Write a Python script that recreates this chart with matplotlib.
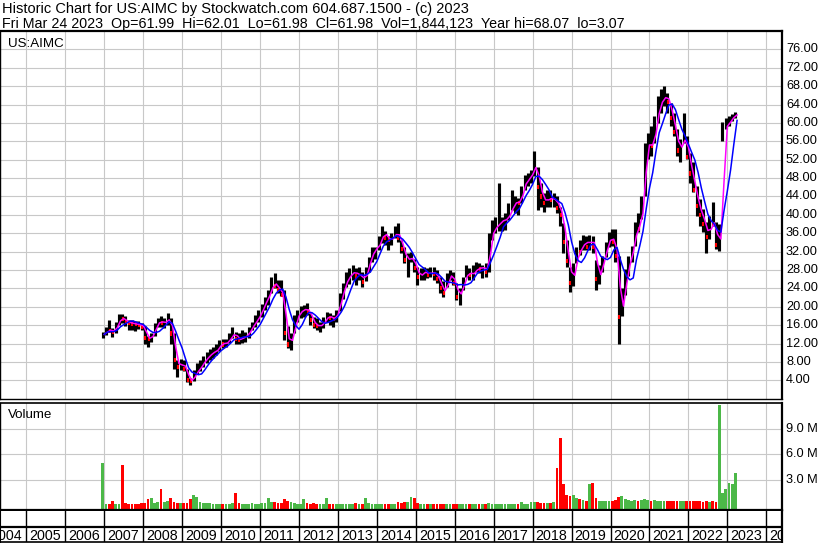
import numpy as np
import pandas as pd
import matplotlib
matplotlib.use("Agg")
import matplotlib.pyplot as plt

plt.rcParams['font.family'] = ['Liberation Sans', 'DejaVu Sans']

# ---------------- data (monthly, Dec 2006 .. Mar 2023) ----------------
first_month = "2006-12"
high = [14.5,
        15.6, 17.1, 15.3, 16.7, 18.4, 18.5, 18.1, 17.2, 17.2, 17.0, 16.9, 16.5,
        15.9, 13.6, 14.4, 16.5, 17.5, 17.9, 17.5, 18.6, 17.6, 14.2, 8.4, 8.7,
        8.4, 6.4, 4.6, 6.2, 7.7, 8.4, 9.2, 10.2, 10.8, 11.3, 12.0, 12.8,
        13.0, 13.0, 14.4, 15.7, 14.6, 14.2, 15.0, 14.6, 15.7, 16.7, 18.2, 19.3,
        20.6, 22.2, 23.6, 26.5, 27.4, 25.8, 25.8, 23.6, 15.8, 14.2, 18.2, 19.3,
        20.1, 20.4, 20.8, 18.6, 17.8, 17.5, 16.7, 17.8, 18.9, 18.6, 18.2, 19.3,
        22.9, 25.2, 27.6, 28.4, 29.1, 28.4, 28.7, 27.6, 28.7, 30.9, 33.1, 33.1,
        35.3, 37.5, 36.4, 35.3, 36.0, 37.5, 38.2, 34.5, 33.1, 31.6, 32.0, 30.5,
        28.7, 28.4, 28.7, 28.4, 28.7, 28.7, 28.0, 26.5, 25.5, 27.3, 28.0, 27.6,
        25.1, 24.0, 26.5, 29.1, 28.4, 29.1, 29.8, 29.5, 29.1, 29.5, 36.0, 38.9,
        39.6, 47.0, 39.6, 40.4, 42.5, 45.5, 44.0, 43.6, 46.2, 48.7, 49.1, 49.8,
        53.8, 50.5, 46.9, 44.7, 45.5, 45.5, 44.7, 44.0, 41.8, 38.2, 34.5, 28.7,
        29.5, 33.1, 34.5, 35.6, 35.3, 35.6, 35.3, 30.2, 29.0, 31.1, 34.0, 36.2,
        36.9, 36.9, 31.0, 24.0, 28.2, 31.1, 33.3, 38.4, 40.5, 44.1, 55.7, 57.9,
        59.3, 61.5, 65.8, 67.3, 68.07, 66.6, 64.4, 62.2, 58.6, 56.4, 62.2, 57.2,
        53.5, 51.4, 46.3, 43.4, 41.2, 38.4, 39.8, 42.7, 38.4, 38.0, 60.2, 61.1,
        61.5, 61.9, 62.3]
low = [13.3,
       13.8, 14.6, 13.5, 14.4, 16.1, 16.5, 15.9, 14.9, 14.9, 14.7, 15.1, 14.9,
       11.8, 11.3, 12.3, 13.6, 15.5, 15.5, 15.3, 16.1, 11.8, 6.4, 4.8, 6.2,
       6.1, 3.6, 3.07, 3.9, 5.3, 6.1, 6.9, 7.7, 8.5, 8.9, 9.5, 10.3,
       11.1, 11.2, 12.2, 13.2, 12.0, 11.8, 12.2, 12.4, 13.1, 15.0, 15.7, 16.7,
       17.7, 19.3, 20.4, 22.9, 24.0, 22.9, 22.4, 12.8, 11.0, 10.5, 14.3, 16.7,
       17.5, 17.8, 18.2, 16.0, 15.4, 15.0, 14.6, 15.4, 16.7, 16.0, 15.7, 16.7,
       19.0, 21.8, 24.4, 25.0, 25.8, 24.7, 25.8, 24.4, 25.5, 27.6, 29.8, 30.5,
       32.4, 33.8, 33.5, 32.4, 33.5, 34.9, 34.0, 31.6, 29.5, 26.5, 29.8, 27.6,
       24.7, 25.8, 25.8, 26.2, 26.5, 25.8, 25.1, 22.9, 22.2, 24.4, 25.8, 24.7,
       21.5, 20.4, 23.6, 26.5, 25.8, 25.8, 27.6, 27.3, 26.2, 26.5, 27.6, 34.5,
       36.0, 36.4, 36.4, 36.7, 38.9, 41.1, 40.4, 40.0, 42.5, 45.5, 46.2, 46.9,
       48.4, 41.1, 41.8, 40.7, 41.8, 41.8, 41.8, 40.4, 37.5, 31.6, 28.7, 23.3,
       24.5, 29.5, 31.3, 32.4, 32.4, 32.4, 31.6, 23.6, 25.0, 27.5, 30.8, 32.9,
       33.3, 29.7, 12.0, 18.1, 22.5, 26.8, 29.7, 33.3, 36.2, 39.1, 44.1, 52.1,
       52.8, 55.7, 60.0, 62.2, 63.7, 62.2, 59.3, 57.2, 52.8, 51.4, 55.7, 52.1,
       47.0, 44.9, 39.8, 37.6, 36.2, 31.8, 34.7, 37.6, 32.6, 32.2, 56.0, 58.6,
       59.3, 60.4, 61.0]
close = [14.0,
         15.0, 14.8, 14.6, 16.3, 17.6, 17.3, 16.7, 16.5, 16.3, 16.2, 16.1, 15.7,
         13.3, 13.0, 14.0, 16.1, 16.9, 16.5, 16.7, 17.6, 14.2, 8.4, 6.9, 7.8,
         6.4, 4.0, 3.9, 5.5, 6.3, 7.3, 8.5, 9.1, 10.0, 10.2, 10.8, 12.2,
         11.8, 12.4, 13.4, 14.4, 13.0, 12.8, 13.6, 13.6, 15.2, 16.1, 17.3, 18.3,
         20.2, 21.6, 23.1, 25.3, 24.6, 23.6, 22.6, 14.3, 11.8, 13.6, 17.3, 18.6,
         19.3, 19.5, 19.1, 17.1, 16.0, 15.8, 16.0, 17.1, 18.1, 17.5, 17.3, 19.1,
         22.2, 24.4, 26.5, 26.8, 28.0, 26.6, 27.2, 25.4, 28.2, 30.5, 32.4, 32.8,
         34.0, 36.4, 35.0, 34.5, 35.0, 36.4, 34.9, 32.6, 30.2, 30.5, 30.5, 28.4,
         26.4, 27.4, 27.6, 27.0, 27.6, 27.2, 26.0, 24.0, 23.0, 26.6, 26.8, 25.2,
         22.2, 23.4, 26.0, 27.6, 27.0, 27.4, 28.6, 28.2, 28.8, 27.6, 35.0, 37.0,
         37.5, 38.5, 38.9, 39.0, 40.5, 42.2, 43.0, 42.5, 45.8, 47.6, 47.8, 49.6,
         51.0, 46.0, 44.0, 42.5, 44.0, 43.2, 43.5, 41.5, 40.0, 34.0, 30.0, 25.2,
         28.5, 32.5, 32.0, 35.0, 33.0, 35.0, 33.0, 26.0, 28.0, 30.8, 33.5, 35.4,
         34.0, 31.0, 17.8, 22.5, 27.5, 30.5, 33.0, 38.0, 37.0, 43.5, 55.0, 55.4,
         55.0, 60.0, 64.0, 65.0, 66.0, 64.5, 61.0, 58.0, 54.0, 55.5, 57.0, 52.5,
         49.0, 45.5, 42.0, 40.0, 38.0, 35.2, 38.5, 38.0, 33.5, 36.0, 59.0, 59.5,
         60.8, 61.5, 61.98]
volume_m = [5.0,
            0.25, 0.2, 0.55, 0.2, 0.25, 4.8, 0.3, 0.25, 0.2, 0.25, 0.2, 0.3,
            0.35, 0.74, 0.93, 0.35, 0.4, 1.9, 0.4, 0.55, 0.93, 0.45, 0.35, 0.3,
            0.3, 0.35, 0.74, 1.25, 1.05, 0.4, 0.3, 0.35, 0.3, 0.25, 0.2, 0.2,
            0.2, 0.2, 0.25, 0.3, 1.5, 0.3, 0.2, 0.2, 0.25, 0.3, 0.2, 0.25,
            0.3, 0.3, 0.93, 0.4, 0.4, 0.3, 0.3, 0.74, 0.5, 0.4, 0.3, 0.25,
            0.25, 0.74, 0.3, 0.25, 0.3, 0.2, 0.2, 0.2, 0.86, 0.25, 0.2, 0.2,
            0.25, 0.2, 0.25, 0.2, 0.25, 0.3, 0.2, 0.25, 0.86, 0.3, 0.25, 0.2,
            0.2, 0.25, 0.2, 0.25, 0.2, 0.2, 0.47, 0.35, 0.4, 0.45, 1.05, 0.93,
            0.3, 0.2, 0.2, 0.15, 0.15, 0.2, 0.15, 0.2, 0.25, 0.2, 0.15, 0.2,
            0.25, 0.25, 0.2, 0.2, 0.15, 0.2, 0.15, 0.15, 0.2, 0.2, 0.3, 0.25,
            0.2, 0.2, 0.25, 0.2, 0.2, 0.25, 0.2, 0.25, 0.45, 0.25, 0.2, 0.4,
            0.4, 0.45, 0.35, 0.3, 0.3, 0.35, 0.4, 4.4, 7.9, 2.5, 1.3, 1.1,
            1.2, 0.9, 0.8, 0.7, 0.6, 2.5, 2.7, 0.9, 0.6, 0.5, 0.5, 0.6,
            0.6, 0.7, 1.0, 1.1, 0.8, 0.7, 0.6, 0.7, 0.6, 0.7, 0.8, 0.7,
            0.6, 0.7, 0.6, 0.6, 0.5, 0.5, 0.6, 0.5, 0.5, 0.5, 0.5, 0.6,
            0.6, 0.6, 0.5, 0.5, 0.45, 0.5, 0.45, 0.5, 0.45, 11.8, 1.5, 1.9,
            2.7, 2.5, 3.8]
price_ticks = [4, 8, 12, 16, 20, 24, 28, 32, 36, 40, 44, 48, 52, 56, 60, 64, 68, 72, 76]
volume_ticks = [3.0, 6.0, 9.0]
year_labels = list(range(2004, 2025))
header1 = "Historic Chart for US:AIMC by Stockwatch.com 604.687.1500 - (c) 2023"
header2 = ("Fri Mar 24 2023  Op=61.99  Hi=62.01  Lo=61.98  Cl=61.98  "
           "Vol=1,844,123  Year hi=68.07  lo=3.07")
symbol = "US:AIMC"

# ---------------- geometry helpers ----------------
W, H = 830, 543
def fy(y):
    return 1 - y / H
def fx(x):
    return x / W
def year_at(px):
    return 2007 + (px - 104.3) / 38.94

fig = plt.figure(figsize=(W / 100, H / 100), dpi=100)
fig.patch.set_facecolor("white")

RIGHT = 782
P_TOP, P_BOT = 31, 398.7
V_TOP, V_BOT = 402.5, 509.5
X_TOP, X_BOT = 510.5, 542

xl = (year_at(0), year_at(RIGHT))
grid_c = "#c8c8c8"

months = pd.period_range(first_month, periods=len(close), freq="M")
x_start = np.array([p.year + (p.month - 1) / 12 for p in months])
x_mid = x_start + 1 / 24
x_end = x_start + 1 / 12

s = pd.Series(close)
ma_fast = s.rolling(2, min_periods=1).mean()
ma_slow = s.rolling(5, min_periods=1).mean()
chg = s.diff().fillna(1.0)
down = (chg < 0).values

# ---------------- price panel ----------------
ax = fig.add_axes([0, fy(P_BOT), fx(RIGHT), (P_BOT - P_TOP) / H])
ax.set_xlim(*xl)
ax.set_ylim(0, 80)
for yr in year_labels:
    ax.axvline(yr, color=grid_c, lw=0.8, zorder=0)
for t in price_ticks:
    ax.axhline(t, color=grid_c, lw=0.8, zorder=0)
ax.vlines(x_mid, low, high, colors="black", linewidth=2.25, zorder=2)
cl = np.array(close)
ax.vlines(x_mid[down] + 0.012, cl[down] - 0.45, cl[down] + 0.45,
          colors="#ff0000", linewidth=1.5, zorder=3)
ax.plot(x_end, ma_fast, color="#ff00ff", lw=1.1, zorder=4)
ax.plot(x_end, ma_slow, color="#0000ff", lw=1.1, zorder=5)
ax.set_xticks([]); ax.set_yticks([])
for sp in ax.spines.values():
    sp.set_color("black")
ax.spines["top"].set_linewidth(1.6)
ax.spines["right"].set_linewidth(1.6)
ax.spines["left"].set_linewidth(1.0)
ax.spines["bottom"].set_linewidth(1.0)
ax.text(fx(8), fy(46.7), symbol, transform=fig.transFigure, fontsize=9.6,
        va="baseline", ha="left")
for t in price_ticks:
    ypx = P_BOT - t * (P_BOT - P_TOP) / 80
    fig.text(fx(786), fy(ypx), f"{t:.2f}", fontsize=9.2, va="center", ha="left")

# ---------------- volume panel ----------------
axv = fig.add_axes([0, fy(V_BOT), fx(RIGHT), (V_BOT - V_TOP) / H])
vlo, vhi = -0.45, 12.05
axv.set_xlim(*xl)
axv.set_ylim(vlo, vhi)
for yr in year_labels:
    axv.axvline(yr, color=grid_c, lw=0.8, zorder=0)
for t in volume_ticks:
    axv.axhline(t, color=grid_c, lw=0.8, zorder=0)
vol = np.array(volume_m)
cols = np.where(down, "#ff0000", "#4cb848")
axv.bar(x_mid, vol - vlo, bottom=vlo, width=0.85 / 12, color=cols,
        linewidth=0, zorder=2)
axv.set_xticks([]); axv.set_yticks([])
for sp in axv.spines.values():
    sp.set_color("black")
axv.spines["top"].set_linewidth(1.2)
axv.spines["right"].set_linewidth(1.6)
axv.spines["left"].set_linewidth(1.0)
axv.spines["bottom"].set_linewidth(1.6)
fig.text(fx(8), fy(418), "Volume", fontsize=9.6, va="baseline", ha="left")
for t in volume_ticks:
    ypx = V_BOT - (t - vlo) * (V_BOT - V_TOP) / (vhi - vlo)
    fig.text(fx(786), fy(ypx), f"{t:.1f} M", fontsize=9.2, va="center", ha="left")

# ---------------- year label strip ----------------
axx = fig.add_axes([0, fy(X_BOT), fx(RIGHT), (X_BOT - X_TOP) / H])
axx.set_xlim(*xl)
axx.set_ylim(0, 1)
axx.set_xticks([]); axx.set_yticks([])
for yr in year_labels:
    axx.axvline(yr, color="black", lw=1.0)
mid = (X_BOT - 526.5) / (X_BOT - X_TOP)
axx.axhline(mid, color="black", lw=1.6)
for yr in year_labels:
    axx.text(yr + 3.0 / 38.94, (X_BOT - 539.5) / (X_BOT - X_TOP), str(yr),
             fontsize=10.3, ha="left", va="baseline", clip_on=True)
for sp in axx.spines.values():
    sp.set_color("black")
axx.spines["top"].set_visible(False)
axx.spines["right"].set_linewidth(1.6)
axx.spines["bottom"].set_linewidth(1.2)

# ---------------- header ----------------
fig.text(fx(2), fy(12.7), header1, fontsize=10.5, va="baseline", ha="left")
fig.text(fx(2), fy(28.0), header2, fontsize=10.3, va="baseline", ha="left")

fig.savefig("out.png", dpi=100, facecolor="white")
